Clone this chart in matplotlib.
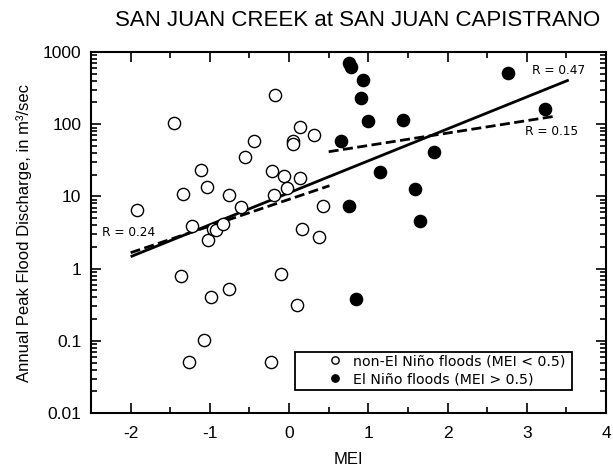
import numpy as np
import matplotlib
matplotlib.use("Agg")
import matplotlib.pyplot as plt
from matplotlib.patches import Rectangle
from matplotlib.ticker import LogLocator, FixedLocator, NullFormatter, FixedFormatter

plt.rcParams["axes.unicode_minus"] = False

# ---------------- data ----------------
non_nino_mei = [-1.92, -1.45, -1.36, -1.34, -1.26, -1.23, -1.11, -1.07, -1.03, -1.02,
                -0.98, -0.96, -0.92, -0.84, -0.76, -0.76, -0.61, -0.56, -0.44, -0.23,
                -0.21, -0.19, -0.18, -0.10, -0.07, -0.02, 0.05, 0.05, 0.10, 0.14,
                0.14, 0.16, 0.31, 0.38, 0.43]
non_nino_q = [6.5, 105, 0.78, 10.8, 0.051, 3.9, 23, 0.103, 13.6, 2.5,
              0.40, 3.55, 3.45, 4.15, 10.4, 0.52, 7.1, 35, 58, 0.051,
              22.7, 10.6, 254, 0.84, 19.2, 13.2, 58, 53, 0.316, 92,
              18.2, 3.5, 72, 2.7, 7.4]
nino_mei = [0.65, 0.76, 0.78, 0.76, 0.85, 0.91, 0.93, 1.00, 1.15, 1.44,
            1.59, 1.65, 1.83, 2.76, 3.23]
nino_q = [58, 711, 625, 7.45, 0.38, 233, 409, 111, 22, 114,
          12.5, 4.6, 41, 516, 161]

# regression lines: end points in MEI and log10(discharge)
fit_all_x = [-2.0, 3.53]
fit_all_logq = [0.165, 2.612]
fit_non_x = [-2.0, 0.51]
fit_non_logq = [0.22, 1.148]
fit_nino_x = [0.50, 3.37]
fit_nino_logq = [1.619, 2.113]

r_labels = ["R = 0.47", "R = 0.15", "R = 0.24"]
x_ticks = [-2, -1, 0, 1, 2, 3, 4]
y_ticks = [0.01, 0.1, 1, 10, 100, 1000]
y_ticklabels = ["0.01", "0.1", "1", "10", "100", "1000"]
legend_labels = ["non-El Niño floods (MEI < 0.5)", "El Niño floods (MEI > 0.5)"]

title = "SAN JUAN CREEK at SAN JUAN CAPISTRANO"
xlabel = "MEI"
ylabel = "Annual Peak Flood Discharge, in m³/sec"

# ---------------- figure ----------------
W, H, DPI = 613, 469, 100
fig = plt.figure(figsize=(W / DPI, H / DPI), dpi=DPI)
L, R, T, B = 91, 606, 52, 413
ax = fig.add_axes([L / W, 1 - B / H, (R - L) / W, (B - T) / H])

sans = ["Liberation Sans", "DejaVu Sans"]
verd = ["DejaVu Sans"]

ax.set_yscale("log")
ax.set_xlim(-2.5, 4)
ax.set_ylim(0.01, 1000)

# lines
ax.plot(fit_all_x, np.power(10, fit_all_logq), color="black", lw=2.0, solid_capstyle="butt", zorder=2)
ax.plot(fit_non_x, np.power(10, fit_non_logq), color="black", lw=2.0, dashes=(3.6, 1.6), zorder=2)
ax.plot(fit_nino_x, np.power(10, fit_nino_logq), color="black", lw=2.0, dashes=(3.6, 1.6), zorder=2)

# points
h1, = ax.plot(non_nino_mei, non_nino_q, linestyle="none", marker="o", ms=8.8,
              mfc="white", mec="black", mew=1.0, zorder=3)
h2, = ax.plot(nino_mei, nino_q, linestyle="none", marker="o", ms=8.8,
              mfc="black", mec="black", mew=1.0, zorder=3)

# R labels
ax.text(3.06, 550, r_labels[0], fontsize=8.7, family=verd, va="center", ha="left")
ax.text(2.98, 80, r_labels[1], fontsize=8.7, family=verd, va="center", ha="left")
ax.text(-2.36, 3.2, r_labels[2], fontsize=8.7, family=verd, va="center", ha="left")

# ticks
ax.xaxis.set_major_locator(FixedLocator(x_ticks))
ax.xaxis.set_minor_locator(FixedLocator(np.arange(-2.5, 4.01, 0.5)))
ax.yaxis.set_major_locator(FixedLocator(y_ticks))
ax.yaxis.set_major_formatter(FixedFormatter(y_ticklabels))
ax.yaxis.set_minor_locator(LogLocator(base=10, subs=np.arange(2, 10), numticks=20))
ax.yaxis.set_minor_formatter(NullFormatter())
ax.tick_params(which="both", direction="in", top=True, right=True, width=1.2, colors="black")
ax.tick_params(which="major", length=7, pad=7, labelsize=12.5)
ax.tick_params(which="minor", length=4)
ax.tick_params(axis="x", which="major", pad=9)
for lab in ax.get_xticklabels() + ax.get_yticklabels():
    lab.set_family(sans)
for sp in ax.spines.values():
    sp.set_linewidth(1.5)

ax.set_xlabel(xlabel, fontsize=12, family=sans, labelpad=8)
ax.set_ylabel(ylabel, fontsize=12, family=sans, labelpad=8)

fig.text(358 / W, 1 - 20 / H, title, fontsize=16, family=sans, ha="center", va="center")

# legend
box = Rectangle(((295 - L) / (R - L), (B - 390) / (B - T)), (572 - 295) / (R - L), (390 - 352) / (B - T),
                transform=ax.transAxes, fill=False, edgecolor="black", lw=1.3, zorder=4)
ax.add_patch(box)
leg = ax.legend([h1, h2], legend_labels, loc="upper left", frameon=False,
                bbox_to_anchor=((324 - L) / (R - L), (B - 352) / (B - T)),
                prop={"family": "DejaVu Sans", "size": 10.2}, markerscale=0.6,
                handlelength=1.2, handletextpad=0.7, labelspacing=0.3, borderpad=0.15, borderaxespad=0)

fig.savefig("out.png", dpi=DPI)
